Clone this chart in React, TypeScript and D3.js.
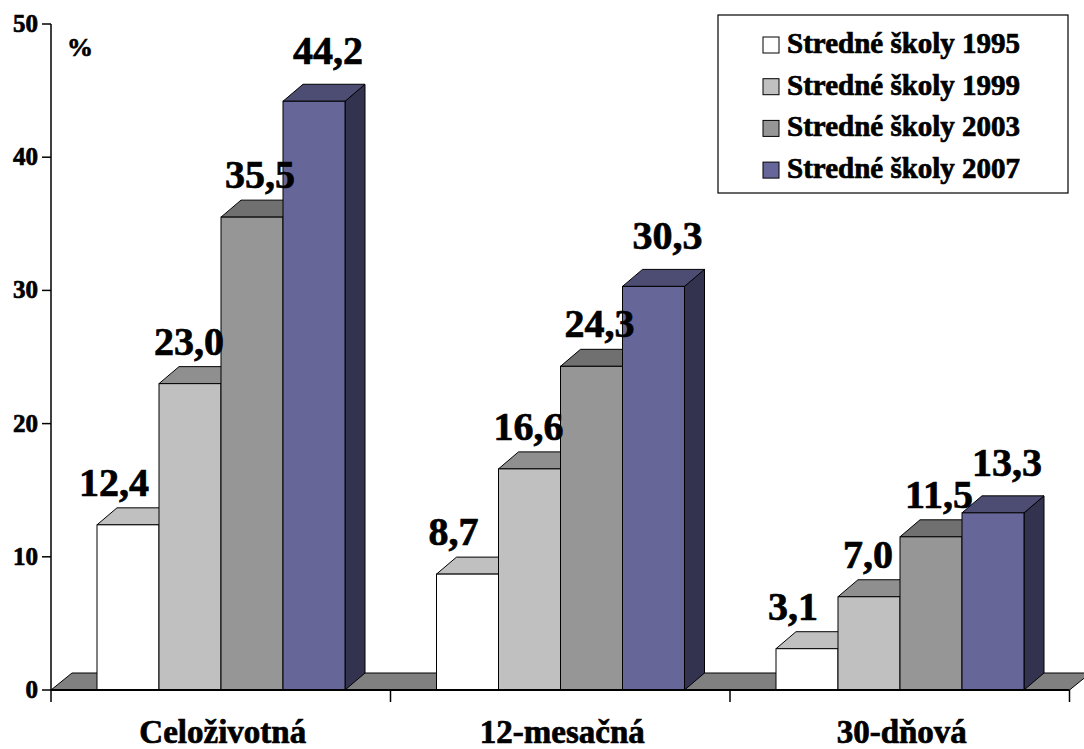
import React from "react";
import * as d3 from "d3";

const categories = ["Celoživotná", "12-mesačná", "30-dňová"];
const seriesNames = ["Stredné školy 1995", "Stredné školy 1999", "Stredné školy 2003", "Stredné školy 2007"];
const s1995 = [12.4, 8.7, 3.1];
const s1999 = [23.0, 16.6, 7.0];
const s2003 = [35.5, 24.3, 11.5];
const s2007 = [44.2, 30.3, 13.3];
const seriesValues = [s1995, s1999, s2003, s2007];
const yTicks = [0, 10, 20, 30, 40, 50];

const frontColors = ["#FFFFFF", "#C0C0C0", "#969696", "#666699"];
const topColors = ["#C0C0C0", "#8F8F8F", "#707070", "#4D4D73"];
const sideColors = ["#BFBFBF", "#909090", "#707070", "#333350"];
// label nudges per series (style)
const labelNudgeX = [-14, -1, 8, 14];
const labelNudgeY = [0, 0, 0, -8];

const FONT = "'Liberation Serif', 'Times New Roman', serif";
const DX = 20;
const DY = 17;
const TS = { stroke: "#000", strokeWidth: 0.7 } as const;

export default function App() {
  const W = 1084;
  const H = 749;
  const x0 = 51;
  const x1 = 1069.5;
  const y = d3.scaleLinear().domain([0, 50]).range([690, 24]);
  const xCat = d3.scaleBand<string>().domain(categories).range([x0, x1]).padding(0);
  const xSer = d3.scaleBand<string>().domain(seriesNames).range([46, 294]).padding(0);
  const fmt = (v: number) => d3.format(".1f")(v).replace(".", ",");
  const y0 = y(0);

  const floor = `M${x0},${y0} L${x1},${y0} L${x1 + DX + 1},${y0 - DY} L${x0 + DX + 1},${y0 - DY} Z`;

  const bars: React.ReactNode[] = [];
  const labels: React.ReactNode[] = [];
  categories.forEach((c, ci) => {
    seriesNames.forEach((s, si) => {
      const v = seriesValues[si][ci];
      const bx = (xCat(c) as number) + (xSer(s) as number);
      const bw = xSer.bandwidth();
      const yt = y(v);
      const top = `M${bx},${yt} L${bx + DX},${yt - DY} L${bx + bw + DX},${yt - DY} L${bx + bw},${yt} Z`;
      const side = `M${bx + bw},${yt} L${bx + bw + DX},${yt - DY} L${bx + bw + DX},${y0 - DY} L${bx + bw},${y0} Z`;
      bars.push(
        <g key={`${ci}-${si}`}>
          <path d={side} fill={sideColors[si]} stroke="#000" strokeWidth={1} strokeLinejoin="round" />
          <path d={top} fill={topColors[si]} stroke="#000" strokeWidth={1} strokeLinejoin="round" />
          <rect x={bx} y={yt} width={bw} height={y0 - yt} fill={frontColors[si]} stroke="#000" strokeWidth={1} />
        </g>
      );
      labels.push(
        <text key={`l-${ci}-${si}`} x={bx + bw / 2 + labelNudgeX[si]} y={yt - DY - 12 + labelNudgeY[si]} textAnchor="middle"
          fontFamily={FONT} fontWeight="bold" fontSize={40} fill="#000" {...TS}>{fmt(v)}</text>
      );
    });
  });

  return (
    <svg width={W} height={H} style={{ position: "absolute", left: 0, top: 0, background: "#fff" }}>
      <rect x={0} y={0} width={W} height={H} fill="#fff" />
      <path d={floor} fill="#808080" stroke="#000" strokeWidth={1} />
      {bars}
      {/* axes */}
      <line x1={x0} y1={24} x2={x0} y2={y0 + 12} stroke="#000" strokeWidth={1.5} />
      <line x1={x0} y1={y0} x2={x1} y2={y0} stroke="#000" strokeWidth={2} />
      {yTicks.map((t) => (
        <g key={t}>
          <line x1={x0 - 9} x2={x0} y1={y(t)} y2={y(t)} stroke="#000" strokeWidth={1.5} />
          <text x={x0 - 13} y={y(t) + 8} textAnchor="end" fontFamily={FONT} fontWeight="bold" fontSize={25} {...TS}>{t}</text>
        </g>
      ))}
      {categories.map((c) => (
        <line key={`t-${c}`} x1={(xCat(c) as number) + xCat.bandwidth()} x2={(xCat(c) as number) + xCat.bandwidth()}
          y1={y0} y2={y0 + 12} stroke="#000" strokeWidth={1.5} />
      ))}
      {categories.map((c) => (
        <text key={`c-${c}`} x={(xCat(c) as number) + xCat.bandwidth() / 2 + 2} y={743} textAnchor="middle"
          fontFamily={FONT} fontWeight="bold" fontSize={33} {...TS}>{c}</text>
      ))}
      <text x={67} y={56} fontFamily={FONT} fontWeight="bold" fontSize={26} {...TS}>%</text>
      {labels}
      {/* legend */}
      <rect x={718} y={15} width={350} height={178} fill="#fff" stroke="#000" strokeWidth={1.2} />
      {seriesNames.map((s, i) => (
        <g key={`lg-${s}`} transform={`translate(0, ${i * 41.7})`}>
          <rect x={763} y={37} width={16} height={16} fill={frontColors[i]} stroke="#000" strokeWidth={1} />
          <text x={787} y={53} fontFamily={FONT} fontWeight="bold" fontSize={29} {...TS}>{s}</text>
        </g>
      ))}
    </svg>
  );
}
